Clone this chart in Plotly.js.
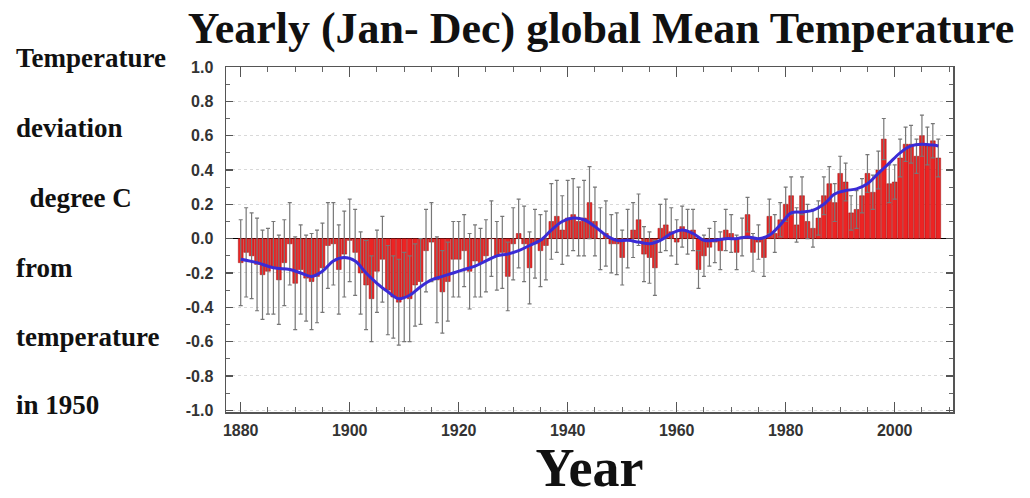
<!DOCTYPE html>
<html>
<head>
<meta charset="utf-8">
<script src="https://cdn.plot.ly/plotly-3.0.1.min.js"></script>
<style>html,body{margin:0;padding:0;background:#fff;}#chart{width:1030px;height:498px;}</style>
</head>
<body>
<div id="chart"></div>
<script>
const years = [];
for (let y = 1880; y <= 2008; y++) years.push(y);

const anomaly = [
 -0.14,-0.08,-0.10,-0.15,-0.21,-0.19,-0.17,-0.24,-0.14,-0.03,
 -0.26,-0.18,-0.23,-0.25,-0.22,-0.17,-0.04,-0.03,-0.18,-0.09,
 -0.01,-0.08,-0.20,-0.27,-0.35,-0.19,-0.12,-0.30,-0.34,-0.37,
 -0.34,-0.35,-0.27,-0.25,-0.07,-0.02,-0.24,-0.31,-0.25,-0.12,
 -0.12,-0.07,-0.19,-0.13,-0.14,-0.10,0.00,-0.10,-0.08,-0.22,
 -0.03,0.03,-0.03,-0.17,-0.03,-0.07,-0.04,0.10,0.13,0.05,
 0.12,0.14,0.10,0.12,0.21,0.10,0.00,0.03,-0.03,-0.03,
 -0.11,0.00,0.05,0.11,-0.09,-0.11,-0.17,0.06,0.08,0.04,
 -0.02,0.07,0.04,0.05,-0.18,-0.10,-0.05,-0.02,-0.07,0.05,
 0.03,-0.08,0.01,0.14,-0.08,-0.02,-0.11,0.13,0.03,0.11,
 0.20,0.25,0.08,0.25,0.10,0.06,0.12,0.25,0.32,0.21,
 0.38,0.33,0.15,0.17,0.25,0.38,0.27,0.40,0.58,0.32,
 0.33,0.47,0.55,0.55,0.48,0.60,0.54,0.57,0.47
];

const uncertainty = [
 0.25,0.26,0.25,0.27,0.26,0.25,0.27,0.26,0.25,0.24,0.27,0.26,0.25,0.28,0.27,0.26,0.25,0.24,0.26,0.25,
 0.24,0.25,0.24,0.26,0.25,0.24,0.25,0.26,0.24,0.25,0.26,0.25,0.24,0.25,0.24,0.23,0.25,0.24,0.23,0.22,
 0.22,0.21,0.22,0.21,0.20,0.21,0.22,0.20,0.21,0.20,0.21,0.20,0.22,0.21,0.20,0.21,0.20,0.22,0.21,0.20,
 0.22,0.21,0.20,0.22,0.21,0.20,0.18,0.19,0.17,0.18,0.16,0.17,0.16,0.15,0.16,0.15,0.16,0.14,0.15,0.14,
 0.13,0.12,0.13,0.12,0.11,0.12,0.11,0.12,0.11,0.12,0.11,0.10,0.11,0.10,0.11,0.10,0.11,0.10,0.11,0.10,
 0.10,0.11,0.10,0.11,0.10,0.11,0.10,0.11,0.10,0.11,0.10,0.11,0.10,0.11,0.10,0.11,0.10,0.11,0.12,0.11,
 0.10,0.11,0.10,0.11,0.10,0.12,0.11,0.10,0.11
];

const smoothYears = [1880,1883,1886,1889,1891,1893,1895,1897,1899,1901,1903,1905,1907,1909,1911,1913,1915,1917,1919,1921,1923,1925,1927,1929,1931,1933,1935,1937,1939,1941,1943,1945,1947,1949,1951,1953,1955,1957,1959,1961,1963,1965,1967,1969,1971,1973,1975,1977,1979,1981,1983,1985,1987,1989,1991,1993,1995,1997,1999,2001,2003,2005,2007,2008];
const smoothValues = [-0.12,-0.14,-0.17,-0.18,-0.20,-0.22,-0.19,-0.13,-0.11,-0.13,-0.20,-0.26,-0.31,-0.35,-0.33,-0.28,-0.24,-0.22,-0.20,-0.18,-0.16,-0.13,-0.10,-0.09,-0.07,-0.04,-0.01,0.05,0.10,0.12,0.11,0.07,0.02,-0.01,-0.01,-0.02,-0.03,-0.01,0.03,0.05,0.03,-0.01,-0.01,0.00,0.00,0.01,0.00,0.02,0.08,0.15,0.155,0.165,0.20,0.26,0.28,0.29,0.32,0.38,0.44,0.50,0.54,0.55,0.545,0.54];

const yTickVals = [1.0,0.8,0.6,0.4,0.2,0.0,-0.2,-0.4,-0.6,-0.8,-1.0];
const yTickText = ["1.0","0.8","0.6","0.4","0.2","0.0","-0.2","-0.4","-0.6","-0.8","-1.0"];
const xTickVals = [1880,1900,1920,1940,1960,1980,2000];
const xTickText = ["1880","1900","1920","1940","1960","1980","2000"];

const sideLabels = ["Temperature","deviation","&nbsp;&nbsp;degree C","from","temperature","in 1950"];
const sideLabelY = [58,128,198,268,337,405];

const serif = "Liberation Serif, Times New Roman, serif";
const sans = "Liberation Sans, Arial, sans-serif";

const traces = [
  {
    type: "bar",
    x: years,
    y: anomaly,
    marker: {color: "#ec2424", line: {color: "#9a1010", width: 0.5}},
    error_y: {type: "data", array: uncertainty, visible: true, color: "#777", thickness: 1.2, width: 2},
    hoverinfo: "x+y"
  },
  {
    type: "scatter",
    mode: "lines",
    x: smoothYears,
    y: smoothValues,
    line: {color: "#3a2bd6", width: 3, shape: "spline", smoothing: 1},
    hoverinfo: "x+y"
  }
];

const annotations = sideLabels.map((t, i) => ({
  text: t,
  xref: "paper", yref: "paper",
  x: (14 - 226) / 727,
  y: (412 - sideLabelY[i]) / 345,
  xanchor: "left", yanchor: "middle",
  showarrow: false,
  font: {family: serif, size: 27, color: "#111", weight: "bold"}
}));

const layout = {
  width: 1030, height: 498,
  margin: {l: 226, r: 77, t: 67, b: 86, pad: 0},
  paper_bgcolor: "#fff", plot_bgcolor: "#fff",
  showlegend: false,
  bargap: 0.12,
  title: {
    text: "Yearly (Jan- Dec) global Mean Temperature",
    font: {family: serif, size: 44, color: "#111", weight: "bold"},
    x: 601 / 1030, xanchor: "center", xref: "container",
    y: 1 - 28 / 498, yanchor: "middle", yref: "container"
  },
  xaxis: {
    range: [1877.3, 2010.7],
    tickvals: xTickVals, ticktext: xTickText,
    ticks: "inside", ticklen: 10, tickwidth: 1.2, tickcolor: "#555",
    minor: {dtick: 5, tick0: 1880, ticks: "inside", ticklen: 5, tickcolor: "#666", tickwidth: 1, showgrid: false},
    showline: true, linecolor: "#555", linewidth: 1.5, mirror: "allticks",
    showgrid: false, zeroline: false,
    tickfont: {family: sans, size: 16, color: "#333", weight: "bold"},
    ticklabelstandoff: 3,
    title: {text: "Year", font: {family: serif, size: 54, color: "#111", weight: "bold"}, standoff: 24}
  },
  yaxis: {
    range: [-1.01, 1.0],
    tickvals: yTickVals, ticktext: yTickText,
    ticks: "inside", ticklen: 7, tickwidth: 1.2, tickcolor: "#555",
    minor: {dtick: 0.1, tick0: 0, ticks: "inside", ticklen: 4, tickcolor: "#666", tickwidth: 1, showgrid: false},
    showline: true, linecolor: "#555", linewidth: 1.5, mirror: "allticks",
    showgrid: true, gridcolor: "#d9d9d9", griddash: "dot", gridwidth: 1,
    zeroline: true, zerolinecolor: "#000", zerolinewidth: 1.5,
    tickfont: {family: sans, size: 16, color: "#333", weight: "bold"},
    ticklabelstandoff: 8
  },
  annotations: annotations
};

Plotly.newPlot("chart", traces, layout, {displayModeBar: false, staticPlot: true});
</script>
</body>
</html>
